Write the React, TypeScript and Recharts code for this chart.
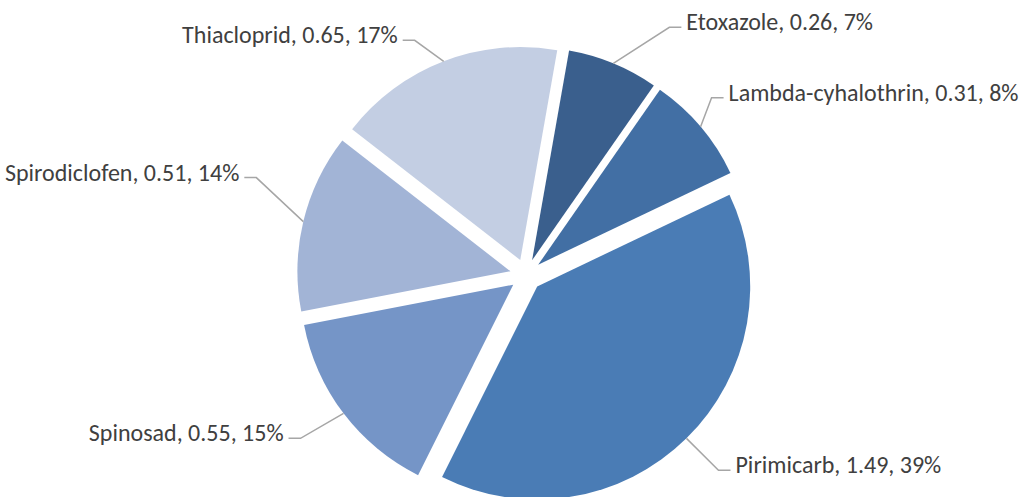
import React from 'react';
import { PieChart, Pie, Cell, Sector } from 'recharts';

const names = ['Etoxazole', 'Lambda-cyhalothrin', 'Pirimicarb', 'Spinosad', 'Spirodiclofen', 'Thiacloprid'];
const amounts = [0.26, 0.31, 1.486, 0.55, 0.51, 0.65];
const COLORS = ['#3a5f8d', '#426fa4', '#4a7cb5', '#7595c7', '#a2b4d6', '#c3cee3'];

// label elbow offsets from the slice edge (dx, dy), Excel-style hand placement
const LABEL_ELBOWS = [
  [56, -36], [11, -29], [32, 32], [-43, 25], [-47, -44], [-29, -21],
];

const RADIAN = Math.PI / 180;
const EXPLODE = 16;

const data = names.map((name, i) => ({ name, value: amounts[i] }));

function ExplodedSector(props: any) {
  const { cx, cy, midAngle } = props;
  const dx = EXPLODE * Math.cos(-midAngle * RADIAN);
  const dy = EXPLODE * Math.sin(-midAngle * RADIAN);
  return <Sector {...props} cx={cx + dx} cy={cy + dy} />;
}

function renderLabel(props: any) {
  const { cx, cy, midAngle, outerRadius, index, name, value, percent } = props;
  const r = outerRadius + EXPLODE;
  const ax = cx + r * Math.cos(-midAngle * RADIAN);
  const ay = cy + r * Math.sin(-midAngle * RADIAN);
  const [ex, ey] = LABEL_ELBOWS[index];
  const bx = ax + ex;
  const by = ay + ey;
  const right = ex > 0;
  const hx = bx + (right ? 12 : -12);
  const tx = hx + (right ? 5 : -5);
  return (
    <g>
      <polyline points={`${ax},${ay} ${bx},${by} ${hx},${by}`} fill="none" stroke="#a6a6a6" strokeWidth={1.5} />
      <text x={tx} y={by + 3} textAnchor={right ? 'start' : 'end'} fill="#404040" fontSize={24} fontFamily="Carlito, Lato, sans-serif">
        {`${name}, ${value.toFixed(2)}, ${Math.round(percent * 100)}%`}
      </text>
    </g>
  );
}

export default function App() {
  return (
    <div style={{ position: 'absolute', left: 0, top: 0, width: 1028, height: 497, background: '#fff' }}>
      <PieChart width={1028} height={497}>
        <Pie
          data={data}
          dataKey="value"
          nameKey="name"
          cx={521}
          cy={270}
          outerRadius={213}
          startAngle={80}
          endAngle={-280}
          stroke="none"
          shape={ExplodedSector}
          inactiveShape={ExplodedSector}
          activeShape={ExplodedSector}
          label={renderLabel}
          labelLine={false}
          isAnimationActive={false}
        >
          {data.map((_, i) => (
            <Cell key={i} fill={COLORS[i]} />
          ))}
        </Pie>
      </PieChart>
    </div>
  );
}
